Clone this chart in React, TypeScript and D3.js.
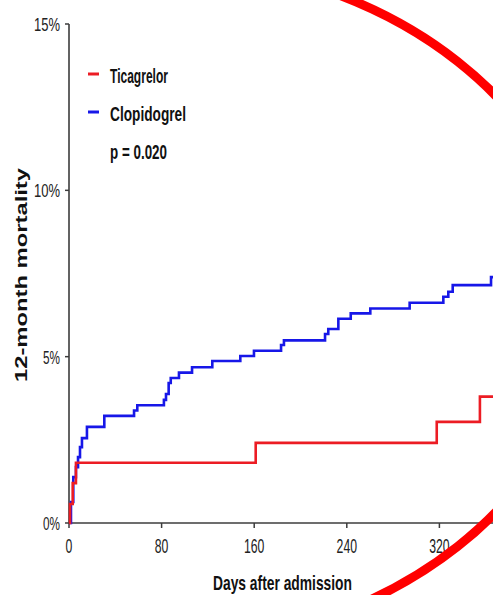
import React from "react";
import * as d3 from "d3";

// ---- data ----
const xTicks = [0, 80, 160, 240, 320];
const yTicks = [0, 5, 10, 15];
const yTickLabels = ["0%", "5%", "10%", "15%"];

const clopidogrelDays = [0, 1.7, 3.7, 6, 7.8, 9.5, 11.2, 15.5, 30.5, 56.2, 59, 82, 83.8, 86.1, 87.9, 95, 106.3, 123.8, 148, 159.8, 183.2, 185.7, 221.2, 224, 232.7, 243.4, 260.3, 294.3, 323.4, 327.7, 331.5, 364.6, 370];
const clopidogrelPct = [0, 0.63, 1.38, 1.68, 1.98, 2.28, 2.55, 2.89, 3.22, 3.38, 3.54, 3.7, 3.88, 4.21, 4.36, 4.52, 4.68, 4.87, 5.02, 5.18, 5.35, 5.49, 5.68, 5.83, 6.14, 6.3, 6.45, 6.62, 6.8, 6.95, 7.15, 7.39, 7.39];

const ticagrelorDays = [0, 0.9, 3.2, 6, 161.3, 317.7, 355, 370];
const ticagrelorPct = [0, 0.57, 1.2, 1.81, 2.41, 3.04, 3.8, 3.8];

const seriesNames = ["Ticagrelor", "Clopidogrel"];
const seriesColors = ["#ec1c24", "#1717e8"];
const pValueText = "p = 0.020";
const xTitle = "Days after admission";
const yTitle = "12-month mortality";

// ---- layout ----
const W = 493;
const H = 595;
const x = d3.scaleLinear().domain([0, 80]).range([69, 161.6]);
const y = d3.scaleLinear().domain([0, 15]).range([523, 24]);

const narrow = "'Liberation Sans Narrow', 'Arial Narrow', 'Liberation Sans', Arial, sans-serif";
const wide = "'Liberation Sans', Arial, sans-serif";

const line = d3
  .line<[number, number]>()
  .x((d) => x(d[0]))
  .y((d) => y(d[1]))
  .curve(d3.curveStepAfter);

const zip = (a: number[], b: number[]) => a.map((v, i) => [v, b[i]] as [number, number]);

export default function App() {
  const clop = zip(clopidogrelDays, clopidogrelPct);
  const tica = zip(ticagrelorDays, ticagrelorPct);
  const axisColor = "#3c3c3c";
  const legendBaselines = [83, 121];
  const legendWidths = [58, 76];
  return (
    <div style={{ position: "absolute", left: 0, top: 0 }}>
      <svg width={W} height={H} style={{ display: "block", background: "#fff" }}>
        <rect x={0} y={0} width={W} height={H} fill="#fff" />
        {/* axes */}
        <line x1={x(0)} x2={x(0)} y1={y(15)} y2={y(0)} stroke={axisColor} strokeWidth={1.6} />
        <line x1={x(0)} x2={W + 5} y1={y(0)} y2={y(0)} stroke={axisColor} strokeWidth={1.6} />
        {yTicks.map((t, i) => (
          <g key={"y" + t}>
            <line x1={x(0) - 4} x2={x(0)} y1={y(t)} y2={y(t)} stroke={axisColor} strokeWidth={1.5} />
            <text
              x={60}
              y={y(t) + 7}
              textAnchor="end"
              fontFamily={narrow}
              fontSize={19}
              fill="#222"
              textLength={yTickLabels[i].length === 3 ? 26 : 17}
              lengthAdjust="spacingAndGlyphs"
            >
              {yTickLabels[i]}
            </text>
          </g>
        ))}
        {xTicks.map((t) => (
          <g key={"x" + t}>
            <line x1={x(t)} x2={x(t)} y1={y(0)} y2={y(0) + 5} stroke={axisColor} strokeWidth={1.5} />
            <text
              x={x(t)}
              y={553}
              textAnchor="middle"
              fontFamily={narrow}
              fontSize={20}
              fill="#222"
              textLength={String(t).length * 6.8}
              lengthAdjust="spacingAndGlyphs"
            >
              {String(t)}
            </text>
          </g>
        ))}
        {/* axis titles */}
        <text
          x={282.5}
          y={590}
          textAnchor="middle"
          fontFamily={narrow}
          fontWeight="bold"
          fontSize={21}
          fill="#111"
          textLength={139}
          lengthAdjust="spacingAndGlyphs"
        >
          {xTitle}
        </text>
        <text
          transform="translate(27,275) rotate(-90)"
          textAnchor="middle"
          fontFamily={wide}
          fontWeight="bold"
          fontSize={17}
          fill="#111"
          textLength={214}
          lengthAdjust="spacingAndGlyphs"
        >
          {yTitle}
        </text>
        {/* curves */}
        <path d={line(clop) || ""} fill="none" stroke={seriesColors[1]} strokeWidth={2.6} />
        <path d={line(tica) || ""} fill="none" stroke={seriesColors[0]} strokeWidth={2.6} />
        {/* legend */}
        {seriesNames.map((n, i) => (
          <g key={n}>
            <line x1={88} x2={99} y1={legendBaselines[i] - 9} y2={legendBaselines[i] - 9} stroke={seriesColors[i]} strokeWidth={3} />
            <text
              x={110}
              y={legendBaselines[i]}
              fontFamily={narrow}
              fontWeight="bold"
              fontSize={20}
              fill="#111"
              textLength={legendWidths[i]}
              lengthAdjust="spacingAndGlyphs"
            >
              {n}
            </text>
          </g>
        ))}
        <text
          x={110}
          y={159}
          fontFamily={narrow}
          fontWeight="bold"
          fontSize={20}
          fill="#111"
          textLength={57}
          lengthAdjust="spacingAndGlyphs"
        >
          {pValueText}
        </text>
        {/* annotation ellipse (hand-drawn highlight, mostly outside the frame) */}
        <ellipse cx={150} cy={304} rx={435} ry={343} fill="none" stroke="#ff0000" strokeWidth={9} />
      </svg>
    </div>
  );
}
